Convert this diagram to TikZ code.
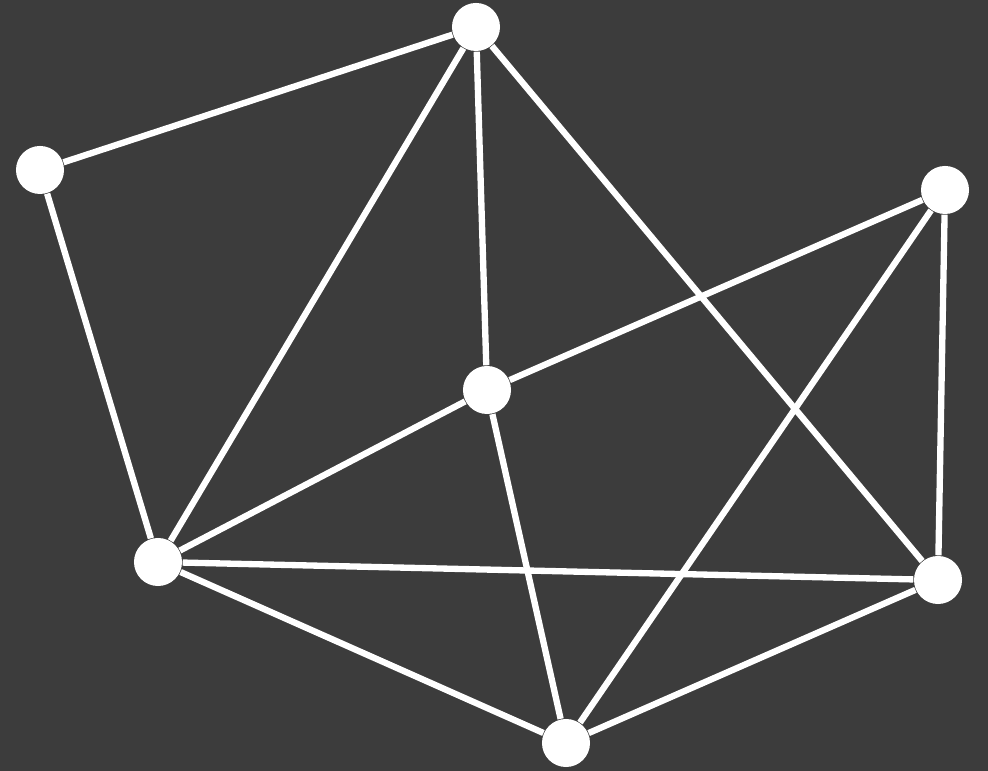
\documentclass[tikz,border=0pt]{standalone}
\usepackage{xcolor}
\definecolor{board}{RGB}{60,60,60}
\definecolor{chalk}{RGB}{255,255,255}
\usepackage{tikz}
\usetikzlibrary{positioning}

\begin{document}
\begin{tikzpicture}[x=0.01cm, y=-0.01cm,
  vtx/.style={circle, fill=chalk, inner sep=0pt, minimum size=0.48cm},
  link/.style={draw=chalk, line width=1.8pt}]
\fill[board] (0,0) rectangle (988,771);
\useasboundingbox (0,0) rectangle (988,771);
\node[vtx] (top) at (476,27) {};
\node[vtx] (left) at (40,170) {};
\node[vtx] (right) at (945,190) {};
\node[vtx] (mid) at (487,390) {};
\node[vtx] (lowleft) at (158,562) {};
\node[vtx] (lowright) at (938,580) {};
\node[vtx] (bottom) at (566,743) {};
\draw[link] (top) -- (left);
\draw[link] (top) -- (lowleft);
\draw[link] (top) -- (mid);
\draw[link] (top) -- (lowright);
\draw[link] (left) -- (lowleft);
\draw[link] (mid) -- (right);
\draw[link] (mid) -- (lowleft);
\draw[link] (mid) -- (bottom);
\draw[link] (right) -- (bottom);
\draw[link] (right) -- (lowright);
\draw[link] (lowleft) -- (lowright);
\draw[link] (lowleft) -- (bottom);
\draw[link] (lowright) -- (bottom);
\end{tikzpicture}
\end{document}
